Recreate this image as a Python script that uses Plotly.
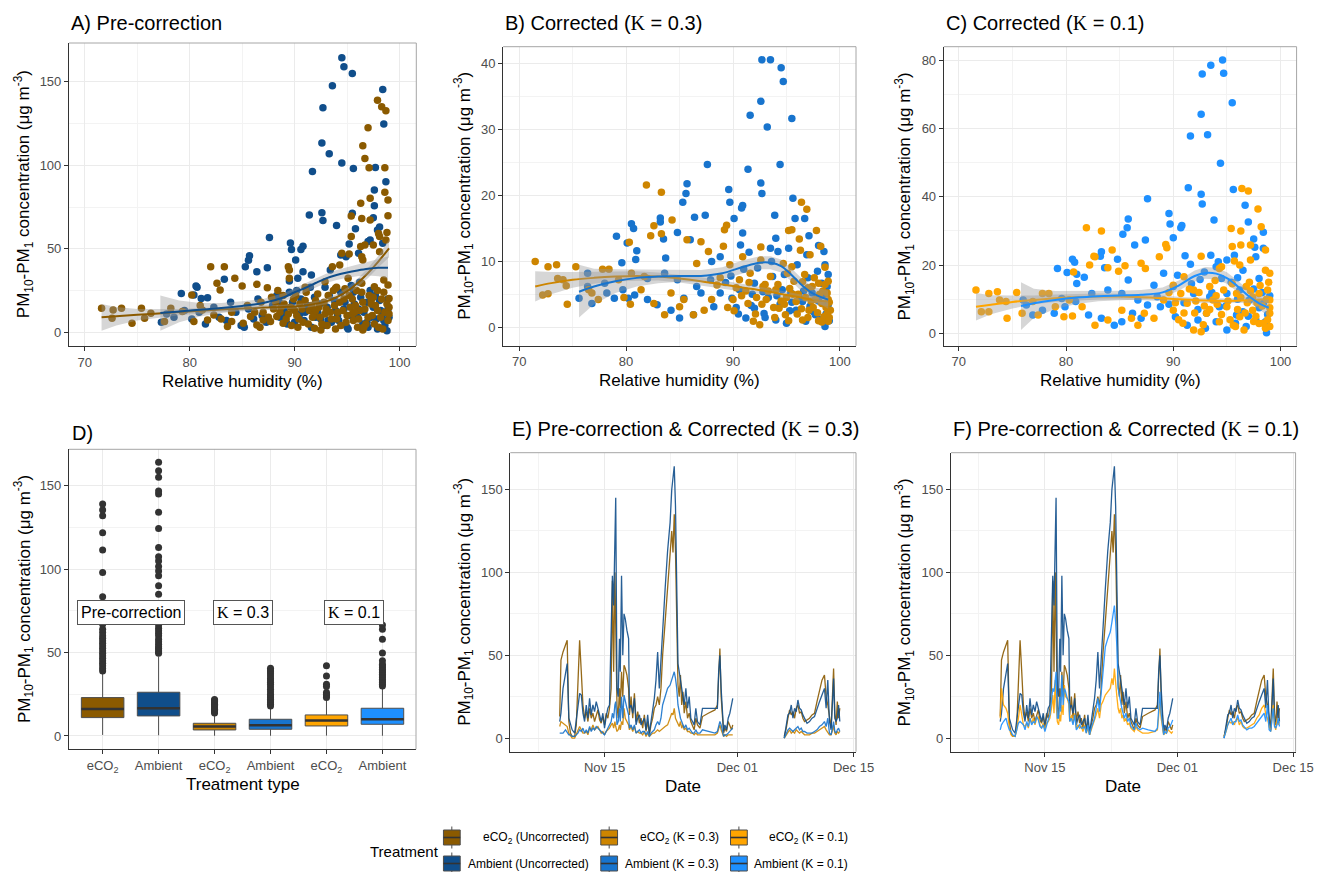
import pandas as pd
import plotly.graph_objects as go

W, H = 1335, 872
FONT = "Liberation Sans, Arial, sans-serif"

# colours per treatment
C_ECO2_U = "#8B5A00"   # orange4
C_AMB_U = "#104E8B"    # dodgerblue4
C_ECO2_3 = "#CD8500"   # orange3
C_AMB_3 = "#1874CD"    # dodgerblue3
C_ECO2_1 = "#FFA500"   # orange
C_AMB_1 = "#1E90FF"    # dodgerblue
RIBBON = "rgba(153,153,153,0.4)"

# ---------------- Panel A: pre-correction, (RH %, PM) ----------------
a_amb = [(94.5, 164.4), (94.7, 159), (95.5, 155), (93.6, 147.6), (98.4, 145.4), (92.7, 134.4), (98.5, 124.7),
         (92.6, 113.3), (93.3, 106.9), (94.5, 101.3), (91.7, 96.2), (95.6, 98.1), (97.7, 98.7), (98.7, 90.2),
         (97.6, 85.2), (97.6, 75.8), (91.4, 70.2), (92.6, 71.6), (92.7, 67.0), (95.5, 71.2), (94.0, 64.0),
         (95.8, 62.0), (97.5, 68.6), (98.1, 63.0), (87.6, 56.7), (89.6, 53.5), (89.7, 49.5), (90.8, 51.5),
         (90.6, 49.5), (85.7, 45.9), (85.6, 43.1), (85.3, 39.3), (87.4, 38.7), (90.1, 43.3), (95.2, 52.9),
         (94.4, 46.3), (94.9, 45.3), (96.1, 47.3), (97.0, 54.3), (97.2, 55.3), (86.4, 36.3), (83.3, 31.7),
         (93.4, 37.3), (91.6, 34.3), (90.8, 36.3), (98.4, 53.3), (97.9, 61.2), (79.2, 23.3), (80.6, 27.7),
         (80.7, 26.9), (81.7, 20.7), (81.1, 20.3), (80.4, 22.3), (89.5, 30.7), (90.3, 32.3),
         (77.3, 6), (77.8, 11), (78.5, 9), (79.5, 13), (80.2, 8), (80.9, 12), (81.5, 5), (82.3, 15), (82.8, 9),
         (83.5, 7), (83.9, 18), (84.4, 12), (84.9, 4), (85.2, 3), (85.6, 14), (86.1, 8), (86.5, 20), (86.9, 10),
         (87.3, 6), (87.9, 16), (88.3, 22), (88.6, 9), (89.0, 13), (89.3, 5), (89.8, 18), (90.2, 25), (90.5, 11),
         (90.9, 7), (91.2, 16), (91.6, 3), (91.9, 21), (92.2, 12), (92.5, 8), (92.9, 27), (93.1, 15), (93.5, 6),
         (93.8, 19), (94.1, 10), (94.4, 24), (94.7, 14), (95.0, 3), (95.1, 2), (95.4, 28), (95.7, 17), (96.0, 9),
         (96.3, 21), (96.6, 12), (96.9, 6), (97.2, 25), (97.5, 15), (97.8, 8), (98.1, 19), (98.4, 11), (98.6, 4),
         (98.8, 1), (98.9, 14), (99.0, 9), (97.0, 3), (96.2, 30), (93.2, 7),
         (88.5, 19), (89.1, 9), (89.5, 24), (90.0, 6), (90.6, 20), (91.0, 12), (91.5, 27), (92.0, 9), (92.4, 17),
         (92.8, 4), (93.3, 22), (93.9, 13), (94.2, 7), (94.8, 18), (95.2, 10), (95.6, 24), (96.1, 14), (96.5, 5),
         (96.9, 18), (97.3, 9), (97.7, 22), (98.2, 13), (98.5, 7), (98.9, 20), (97.9, 2)]

a_eco2 = [(97.9, 139), (98.3, 135), (98.7, 132.7), (97.0, 122.5), (96.5, 111.7), (96.7, 104.1), (98.6, 98.5),
          (97.1, 98.5), (98.6, 83.8), (98.9, 79.2), (96.3, 77.2), (97.2, 80.2), (98.9, 69.8), (96.4, 68.2),
          (97.2, 67.2), (95.4, 69.6), (98.8, 59.8), (98.0, 59.2), (95.4, 57.3), (96.3, 51.3), (96.7, 52.3),
          (97.5, 52.3), (98.1, 57.3), (95.2, 46.9), (94.5, 47.3), (96.4, 45.3), (98.7, 55.3), (98.1, 48.3),
          (89.4, 39.3), (89.5, 37.3), (93.6, 39.3), (94.3, 40.3), (96.5, 43.3), (82.0, 39.3), (83.3, 39.3),
          (84.3, 32.3), (89.5, 32.3), (92.9, 30.3), (95.1, 32.3), (82.6, 29.3), (82.9, 25.3), (85.0, 27.7),
          (86.4, 28.7), (87.4, 26.7), (93.9, 26.3), (98.9, 28.3), (99.0, 20.3), (98.5, 31.3), (97.6, 27.3),
          (96.4, 29.3),
          (71.6, 14.4), (72.7, 13.4), (72.6, 8.4), (73.5, 14.4), (74.5, 5.4), (75.4, 14.4), (76.3, 11.4),
          (75.7, 8.4), (77.6, 6.4), (78.2, 14.4), (79.3, 12.4), (80.2, 22.3), (80.4, 6.4), (81.2, 13.4),
          (81.7, 7.4), (82.3, 10.4), (83.6, 3.4), (84.0, 6.4), (85.1, 5.4), (85.8, 9.4), (86.4, 4.4), (87.0, 7.4),
          (87.7, 6.4), (88.3, 9.4), (88.9, 5.4), (91.9, 2.4), (92.5, 1.4), (96.5, 1.4),
          (88.2, 18), (88.6, 12), (88.9, 22), (89.2, 8), (89.6, 15), (89.9, 20), (90.2, 10), (90.5, 17), (90.8, 6),
          (91.1, 24), (91.4, 13), (91.7, 9), (92.0, 19), (92.3, 15), (92.6, 5), (92.9, 11), (93.2, 22), (93.5, 8),
          (93.8, 16), (94.1, 12), (94.4, 4), (94.7, 20), (95.0, 10), (95.3, 15), (95.6, 7), (95.9, 25), (96.2, 13),
          (96.5, 18), (96.8, 5), (97.1, 22), (97.4, 10), (97.7, 16), (98.0, 3), (98.3, 20), (98.6, 12), (98.9, 7),
          (99.0, 15), (97.9, 25), (96.0, 3), (94.0, 27), (91.0, 27), (90.0, 13), (87.0, 12), (85.5, 16), (84.0, 12),
          (83.0, 8), (81.0, 16), (93.0, 14), (95.5, 20), (97.3, 17),
          (86.2, 12), (86.8, 18), (87.5, 9), (88.0, 14), (88.4, 25), (89.0, 17), (89.4, 11), (89.7, 4), (90.1, 22),
          (90.4, 8), (90.7, 14), (91.0, 19), (91.3, 5), (91.6, 16), (91.9, 11), (92.2, 23), (92.4, 9), (92.8, 18),
          (93.1, 4), (93.4, 12), (93.7, 25), (94.0, 8), (94.3, 18), (94.6, 13), (94.9, 6), (95.2, 22), (95.5, 11),
          (95.8, 16), (96.1, 8), (96.4, 24), (96.7, 14), (97.0, 9), (97.3, 19), (97.6, 5), (97.9, 13), (98.2, 9),
          (98.5, 24), (98.8, 17), (99.0, 11), (98.4, 2), (97.5, 21), (96.6, 3), (95.7, 12), (94.8, 26), (93.9, 2),
          (92.0, 13), (90.3, 3), (88.7, 15), (87.8, 21), (86.7, 3)]

# loess fits: rh, fit, lower, upper
a_eco2_fit_rh = [71.6, 73, 75, 77, 79, 81, 83, 85, 87, 89, 91, 93, 94, 95, 96, 97, 98, 99]
a_eco2_fit = [9.0, 9.6, 10.5, 11.3, 12.1, 12.9, 13.6, 14.2, 14.8, 15.2, 16.0, 18.5, 21.0, 24.5, 29.5, 35.5, 42.5, 50.3]
a_eco2_lo = [1.0, 4.0, 7.0, 8.8, 10.2, 11.2, 12.0, 12.8, 13.4, 13.9, 14.6, 16.8, 19.0, 22.2, 27.0, 32.5, 39.0, 45.0]
a_eco2_hi = [17.0, 15.2, 14.0, 13.8, 14.0, 14.6, 15.2, 15.6, 16.2, 16.5, 17.4, 20.2, 23.0, 26.8, 32.0, 38.5, 46.0, 55.6]
a_amb_fit_rh = [77.2, 79, 81, 83, 85, 87, 89, 90, 91, 92, 93, 94, 95, 96, 97, 98, 98.9]
a_amb_fit = [11.5, 12.5, 13.5, 14.5, 15.8, 17.5, 21.0, 24.0, 26.5, 29.5, 32.3, 34.3, 35.8, 37.0, 38.0, 38.6, 38.7]
a_amb_lo = [1.0, 6.0, 9.5, 11.5, 13.0, 15.1, 18.5, 21.5, 24.0, 26.8, 29.5, 31.3, 32.6, 33.6, 34.0, 33.5, 32.0]
a_amb_hi = [22.0, 19.0, 17.5, 17.5, 18.6, 19.9, 23.5, 26.5, 29.0, 32.2, 35.1, 37.3, 39.0, 40.4, 42.0, 43.7, 45.4]

# ---------------- Panel B: corrected K = 0.3 ----------------
b_amb = [(92.7, 40.6), (93.5, 40.6), (94.5, 39.4), (94.7, 37.3), (92.6, 34.3), (93.2, 30.4), (91.6, 32.2),
         (95.5, 31.7), (91.4, 24.0), (87.6, 24.7), (94.4, 24.7), (92.6, 21.9), (92.7, 20.3), (95.6, 19.6),
         (85.7, 21.8), (85.6, 20.3), (85.3, 19.0), (89.6, 20.9), (89.7, 19.0), (90.8, 18.1), (90.9, 18.5),
         (90.1, 16.5), (93.9, 17.0), (95.8, 16.5), (86.4, 16.7), (87.4, 17.0), (83.2, 16.6), (83.2, 16.0),
         (80.5, 15.7), (80.7, 15.0), (79.1, 13.8), (80.1, 12.8), (81.0, 11.6), (80.9, 10.3), (79.6, 9.8),
         (83.5, 13.4), (84.8, 14.4), (96.7, 16.5), (97.1, 13.9), (98.0, 12.4), (98.5, 11.5), (98.6, 9.5),
         (95.2, 12.0), (94.2, 11.5), (93.5, 12.0), (90.9, 14.3), (90.7, 12.5), (91.5, 11.4), (88.8, 10.7),
         (86.0, 13.3), (83.7, 10.5),
         (76.4, 8.2), (76.8, 3.6), (75.6, 4.4), (76.4, 6.2), (78.2, 5.2), (78.9, 4.4), (80.2, 4.4), (80.8, 4.9),
         (82.0, 4.2), (82.9, 3.4), (84.2, 2.6), (85.0, 1.4), (86.3, 1.9), (85.4, 4.4), (87.0, 5.2), (88.2, 3.1),
         (88.8, 5.2), (89.9, 4.4), (90.6, 5.7), (91.2, 1.4), (92.0, 2.9), (92.9, 2.1), (94.0, 1.1), (95.0, 0.6),
         (95.9, 2.6), (96.8, 0.9), (97.7, 1.9), (98.6, 0.1), (95.4, 5.2), (92.8, 5.4), (96.5, 3.9), (97.4, 5.2),
         (98.3, 6.7), (98.8, 6.2), (98.9, 3.4), (94.6, 5.7), (93.7, 7.7), (92.0, 6.7), (87.9, 7.2), (86.6, 6.2),
         (84.8, 7.2), (83.6, 8.2), (82.0, 7.4), (79.7, 5.7), (78.0, 6.7),
         (96.2, 4.5), (97.2, 3.2), (98.0, 4.0), (98.7, 2.0), (99.0, 1.0), (95.3, 2.5), (94.4, 3.5), (93.3, 4.5),
         (91.8, 5.0), (90.3, 3.0), (89.3, 6.8), (88.0, 10.0),
         (89.8, 7.8), (90.5, 2.0), (91.0, 8.8), (91.7, 3.3), (92.3, 9.0), (93.0, 1.5), (93.6, 10.0), (94.1, 4.8),
         (94.8, 8.0), (95.5, 3.8), (96.0, 9.5), (96.6, 5.5), (97.0, 7.5), (97.5, 2.4), (97.9, 8.5), (98.2, 1.2),
         (98.5, 4.8), (98.9, 8.0), (96.9, 11.0), (94.0, 13.5)]

b_eco2 = [(81.9, 21.6), (83.3, 20.5), (84.3, 16.3), (82.6, 15.4), (82.3, 13.9), (83.3, 14.2), (80.3, 12.9),
          (71.5, 10.0), (72.7, 9.2), (73.5, 9.5), (72.2, 4.9), (72.7, 5.1), (74.5, 3.5), (75.3, 9.2), (73.6, 7.4),
          (74.1, 7.2), (74.4, 6.3), (76.5, 5.7), (76.8, 5.2), (77.4, 4.2), (77.8, 8.8), (78.4, 8.8), (79.8, 4.5),
          (80.4, 3.5), (80.5, 8.2), (81.4, 5.7), (82.6, 3.6), (83.6, 1.9), (84.2, 5.2), (85.0, 3.1), (85.7, 13.3),
          (87.0, 13.0), (87.7, 11.5), (86.6, 9.7), (89.2, 14.8), (89.4, 15.5), (89.1, 12.3), (90.9, 10.7),
          (92.6, 12.2), (92.6, 10.2), (95.2, 14.7), (95.5, 14.8), (96.4, 19.0), (96.9, 17.9), (96.2, 13.4),
          (96.3, 11.7), (97.8, 14.7), (98.2, 12.3), (97.2, 11.0), (98.6, 9.1), (94.7, 9.7), (95.1, 8.2),
          (95.5, 9.2), (93.5, 7.7), (94.0, 5.7), (91.6, 8.2), (90.6, 7.2), (90.0, 4.2), (91.4, 3.6), (91.9, 0.9),
          (92.5, 0.4), (93.1, 4.2), (94.3, 2.9), (94.9, 1.9), (95.9, 3.9), (96.5, 1.1), (97.1, 2.6), (97.7, 4.2),
          (98.5, 1.6), (98.9, 0.9), (99.1, 2.6), (98.8, 5.2), (98.3, 3.6), (97.4, 6.2), (96.5, 6.9), (95.3, 5.9),
          (92.8, 6.2), (88.5, 6.4), (88.0, 4.2), (87.3, 2.6), (86.3, 1.9), (85.4, 4.2), (81.7, 7.7), (79.3, 7.2),
          (89.7, 9.5), (98.0, 6.7), (98.9, 4.2),
          (96.0, 2.0), (96.8, 4.5), (97.5, 3.0), (98.0, 1.0), (98.4, 5.5), (98.7, 3.0), (99.0, 1.5), (97.0, 6.0),
          (95.6, 5.0), (94.5, 4.0), (93.8, 3.0), (93.0, 6.5), (92.2, 4.5), (91.2, 5.5), (90.3, 6.0), (89.5, 3.0),
          (88.8, 7.5),
          (90.1, 2.5), (90.8, 4.8), (91.5, 6.8), (92.1, 2.0), (92.7, 3.5), (93.3, 5.5), (93.9, 1.5), (94.2, 6.5),
          (94.8, 3.5), (95.2, 1.0), (95.7, 7.0), (96.1, 5.0), (96.4, 2.8), (96.7, 8.0), (97.0, 1.5), (97.3, 4.0),
          (97.6, 7.5), (97.9, 2.2), (98.1, 5.0), (98.3, 0.8), (98.6, 6.5), (98.8, 2.0), (99.0, 3.8), (98.9, 7.0),
          (95.0, 4.5)]

b_eco2_fit_rh = [71.5, 73, 75, 77, 79, 81, 83, 85, 87, 89, 91, 93, 95, 97, 98.9]
b_eco2_fit = [6.2, 6.7, 7.2, 7.5, 7.7, 7.8, 7.7, 7.4, 7.0, 6.5, 6.0, 5.5, 4.9, 4.3, 3.9]
b_eco2_lo = [3.9, 5.0, 6.0, 6.6, 7.0, 7.1, 7.1, 6.8, 6.4, 5.9, 5.4, 5.0, 4.4, 3.8, 3.2]
b_eco2_hi = [8.5, 8.4, 8.4, 8.4, 8.4, 8.5, 8.3, 8.0, 7.6, 7.1, 6.6, 6.0, 5.4, 4.8, 4.6]
b_amb_fit_rh = [75.6, 77, 79, 81, 83, 85, 87, 89, 91, 92.5, 93.5, 94.5, 95.5, 96.5, 97.5, 98.9]
b_amb_fit = [5.4, 6.2, 7.0, 7.5, 7.7, 7.8, 7.8, 8.2, 9.2, 9.8, 9.8, 9.3, 7.9, 6.3, 5.1, 4.2]
b_amb_lo = [1.5, 3.5, 5.2, 6.2, 6.7, 6.9, 6.9, 7.3, 8.2, 8.8, 8.8, 8.3, 6.9, 5.3, 4.1, 2.8]
b_amb_hi = [9.5, 8.9, 8.8, 8.8, 8.7, 8.7, 8.7, 9.1, 10.2, 10.8, 10.8, 10.3, 8.9, 7.3, 6.1, 5.6]

# ---------------- Panel C: corrected K = 0.1 ----------------
c_amb = [(94.6, 80.0), (93.5, 78.5), (92.7, 75.9), (94.7, 76.1), (95.5, 67.5), (92.6, 64.1), (93.2, 58.1),
         (91.6, 57.8), (94.4, 49.8), (91.4, 42.6), (92.6, 40.7), (92.7, 37.9), (95.6, 42.1), (96.7, 37.5),
         (87.6, 39.4), (93.8, 33.2), (89.6, 35.1), (89.7, 32.0), (90.8, 31.6), (90.7, 30.9), (90.0, 28.0),
         (97.0, 32.6), (97.5, 27.6), (98.4, 29.6), (97.6, 25.2), (98.4, 24.9), (85.8, 33.5), (85.7, 30.9),
         (85.3, 29.0), (87.4, 27.3), (86.4, 25.9), (83.3, 23.9), (83.2, 22.6), (80.6, 21.7), (80.8, 20.8),
         (79.2, 19.0), (80.1, 17.8), (81.0, 17.3), (81.0, 14.6), (81.7, 16.4), (84.8, 21.7), (83.6, 19.2),
         (91.1, 22.7), (91.6, 20.2), (93.5, 22.9), (95.0, 21.5), (95.7, 22.9), (96.0, 16.3), (94.5, 16.1),
         (98.0, 16.1), (97.7, 22.4), (89.1, 17.6), (94.0, 19.5), (92.5, 15.8), (88.2, 14.1), (85.8, 15.6),
         (76.0, 9.8), (76.9, 5.4), (76.3, 8.3), (77.8, 6.8), (78.9, 5.9), (79.9, 7.8), (80.9, 9.3), (82.1, 5.4),
         (83.3, 4.4), (84.5, 2.4), (85.2, 3.4), (86.2, 5.9), (87.0, 4.4), (87.6, 8.3), (88.8, 7.8), (90.2, 4.9),
         (91.3, 2.4), (92.3, 3.9), (93.1, 5.9), (94.0, 3.4), (95.0, 1.0), (95.9, 5.4), (96.8, 2.0), (97.7, 3.9),
         (98.7, 0.2), (98.4, 8.8), (97.1, 9.8), (96.2, 12.7), (95.0, 11.7), (93.4, 10.7), (91.9, 11.7),
         (90.0, 13.7), (88.5, 10.7), (86.7, 9.8), (85.2, 11.7), (83.9, 12.7), (82.4, 11.7), (79.6, 10.2),
         (98.6, 3.4), (94.3, 7.8), (96.5, 6.3),
         (89.6, 8.5), (90.4, 17.0), (91.0, 9.0), (91.7, 14.5), (92.3, 7.0), (92.9, 18.0), (93.6, 12.0),
         (94.2, 21.0), (94.9, 8.0), (95.4, 15.0), (96.0, 10.0), (96.5, 18.5), (97.0, 5.0), (97.5, 13.0),
         (98.0, 7.5), (98.3, 12.0), (98.8, 5.5), (99.0, 11.0), (95.8, 3.0), (93.0, 1.5)]

c_eco2 = [(81.9, 30.9), (83.3, 30.0), (96.4, 42.4), (97.0, 41.7), (97.9, 36.4), (98.2, 31.2), (95.4, 30.7),
          (96.3, 30.0), (96.3, 25.9), (97.2, 25.9), (98.6, 24.4), (95.5, 25.4), (95.7, 21.2), (96.2, 20.0),
          (97.2, 21.5), (98.6, 18.5), (94.5, 19.5), (92.6, 22.6), (94.3, 19.0), (89.4, 25.1), (89.3, 26.0),
          (88.7, 22.4), (84.3, 24.4), (82.7, 22.4), (82.2, 20.0), (82.6, 22.6), (83.9, 19.2), (84.9, 18.2),
          (85.5, 19.8), (87.0, 20.5), (87.4, 19.0), (80.7, 18.0), (80.3, 9.8), (71.6, 12.7), (72.8, 11.7),
          (73.6, 12.2), (72.1, 6.3), (72.8, 6.3), (74.5, 4.4), (75.4, 12.0), (75.9, 5.9), (73.8, 9.8), (74.4, 9.3),
          (76.9, 9.3), (77.4, 5.4), (77.8, 11.7), (78.4, 11.7), (79.0, 7.8), (79.8, 4.9), (80.6, 5.1), (81.5, 7.8),
          (82.7, 2.4), (83.9, 3.9), (85.2, 6.8), (86.1, 4.4), (86.7, 2.4), (87.3, 5.9), (88.2, 4.4), (89.1, 9.8),
          (90.0, 6.8), (90.7, 11.7), (91.3, 8.8), (91.9, 1.0), (92.6, 0.5), (93.1, 5.9), (93.7, 9.8), (94.3, 3.4),
          (95.0, 7.8), (95.6, 2.4), (96.2, 4.9), (96.6, 1.0), (97.4, 6.8), (98.0, 2.9), (98.6, 1.5), (99.0, 5.9),
          (99.0, 9.8), (98.8, 12.7), (98.0, 11.7), (97.4, 10.7), (96.8, 13.7), (95.9, 11.7), (94.7, 12.7),
          (93.4, 13.7), (91.9, 12.7), (91.0, 16.6), (90.0, 14.1), (99.0, 17.6),
          (96.0, 7.0), (96.9, 9.0), (97.7, 5.0), (98.3, 8.0), (98.8, 4.0), (99.0, 2.0), (95.3, 4.0), (94.0, 11.0),
          (92.9, 8.0), (92.0, 6.0), (90.5, 4.0), (89.6, 12.0),
          (90.2, 9.0), (90.9, 3.0), (91.5, 13.0), (92.1, 9.5), (92.8, 2.5), (93.4, 7.0), (93.9, 15.5), (94.5, 5.5),
          (95.1, 9.5), (95.5, 14.5), (95.8, 2.0), (96.3, 10.5), (96.7, 6.0), (97.1, 15.0), (97.5, 3.5), (97.8, 9.0),
          (98.1, 14.0), (98.4, 3.0), (98.7, 10.0), (99.0, 7.5), (98.9, 15.0), (97.2, 12.5), (94.1, 8.5),
          (92.4, 12.0), (91.0, 6.0)]

c_eco2_fit_rh = [71.6, 73, 75, 77, 79, 81, 83, 85, 87, 89, 91, 93, 95, 97, 98.9]
c_eco2_fit = [7.8, 8.4, 9.2, 9.8, 10.3, 10.6, 10.8, 10.8, 10.6, 10.3, 9.9, 9.6, 9.5, 9.7, 10.1]
c_eco2_lo = [3.8, 5.6, 7.3, 8.5, 9.2, 9.6, 9.9, 10.0, 9.8, 9.5, 9.2, 8.9, 8.8, 8.9, 9.0]
c_eco2_hi = [11.8, 11.2, 11.1, 11.1, 11.4, 11.6, 11.7, 11.6, 11.4, 11.1, 10.6, 10.3, 10.2, 10.5, 11.2]
c_amb_fit_rh = [75.8, 77, 79, 81, 83, 85, 87, 89, 90.5, 92, 93, 94, 95, 96, 97, 98, 98.9]
c_amb_fit = [8.0, 8.8, 9.8, 10.5, 10.9, 11.1, 11.3, 12.0, 14.0, 16.8, 17.7, 17.5, 16.2, 13.8, 11.0, 8.8, 7.5]
c_amb_lo = [1.0, 4.5, 7.2, 8.6, 9.4, 9.7, 9.9, 10.6, 12.5, 15.2, 16.0, 15.8, 14.5, 12.1, 9.3, 7.0, 5.0]
c_amb_hi = [15.0, 13.1, 12.4, 12.4, 12.4, 12.5, 12.7, 13.4, 15.5, 18.4, 19.4, 19.2, 17.9, 15.5, 12.7, 10.6, 10.0]

# ---------------- Panel D: box plot summaries ----------------
box_names = ["eCO<sub>2</sub>", "Ambient", "eCO<sub>2</sub>", "Ambient", "eCO<sub>2</sub>", "Ambient"]
box_colors = [C_ECO2_U, C_AMB_U, C_ECO2_3, C_AMB_3, C_ECO2_1, C_AMB_1]
box_q1 = [11.0, 12.0, 3.6, 4.0, 6.0, 7.0]
box_med = [16.2, 16.6, 5.7, 6.4, 9.2, 10.0]
box_q3 = [23.0, 26.2, 7.6, 10.0, 12.6, 16.6]
box_lo = [0.6, 0.4, 0.1, 0.1, 0.2, 0.1]
box_hi = [38.5, 47.5, 13.4, 17.2, 22.0, 29.6]
box_out = [
    [39, 40.5, 42, 43.5, 45, 46.5, 48, 49.5, 51, 52.5, 54, 55.5, 57, 58.5, 60, 62, 64, 67, 83.5, 97.9, 111.4,
     121.8, 132, 135.4, 139],
    [49.5, 50.5, 51.5, 52.5, 53.5, 55, 56.5, 58, 60, 61.5, 63, 64.5, 66.5, 85, 90, 96, 98.9, 101.5, 104.8, 107.4,
     113, 124.4, 134, 145, 146.8, 155, 159, 164],
    [13.8, 14.5, 15.2, 16, 16.8, 17.5, 18.3, 19, 19.8, 20.6, 21.3, 21.8],
    [18, 19, 20, 21, 22, 23, 24, 25, 26.5, 28, 29.5, 31, 32.2, 33.5, 34.5, 36, 37.3, 38.5, 39.5, 40.6],
    [23.0, 24.0, 25.0, 26.0, 29.6, 31.0, 36.0, 42.0],
    [30, 31, 32, 33, 34, 35, 36, 37, 38, 39, 40, 41, 42, 43, 45, 49.7, 57.9, 64, 66.5],
]

# ---------------- Panels E, F: time series (day counted from 31 Oct) ----------------
ts_day = [9.6, 9.75, 10.0, 10.3, 10.5, 10.7, 10.9, 11.1, 11.4, 11.6,
          11.8, 12.0, 12.2, 12.4, 12.6, 12.8, 13.0, 13.2, 13.4, 13.6,
          13.8, 14.0, 14.2, 14.4, 14.6, 14.8, 15.0, 15.2, 15.4, 15.6,
          15.8, 15.95, 16.1, 16.25, 16.35, 16.5, 16.65, 16.8, 16.9, 17.05,
          17.2, 17.35, 17.5, 17.7, 17.9, 18.0, 18.2, 18.4, 18.6, 18.8,
          19.0, 19.2, 19.4, 19.6, 19.8, 20.0, 20.2, 20.4, 20.6, 20.8,
          21.0, 21.2, 21.4, 21.6, 21.8, 22.0, 22.3, 22.6, 22.9, 23.1,
          23.25, 23.4, 23.55, 23.7, 23.85, 24.0, 24.15, 24.3, 24.45, 24.6,
          24.8, 25.0, 25.2, 25.4, 25.6, 25.8, 26.0, 26.2, 26.5, 26.8,
          27.5, 28.3, 28.6, 28.75, 28.9, 29.05, 29.2, 29.35, 29.5, 29.7,
          29.9, 30.1, 30.3, 30.45, 33.5, 36.65, 36.9, 37.1, 37.3, 37.5,
          37.7, 37.9, 38.1, 38.3, 38.5, 38.7, 38.9, 39.1, 39.4, 39.7,
          40.0, 40.3, 40.6, 40.9, 41.2, 41.5, 41.7, 41.9, 42.1, 42.3,
          42.5, 42.6, 42.75, 42.9, 43.05, 43.2, 43.35]
ts_eco2_raw = [13, 47, 52, 57, 59, 10, 3, 1, 1, 8,
               30, 59, 40, 20, 12, 16, 10, 18, 12, 15,
               10, 14, 17, 11, 9, 13, 8, 15, 12, 18,
               30, 95, 40, 100, 60, 20, 12, 30, 18, 40,
               25, 44, 42, 38, 30, 14, 25, 12, 27, 10,
               16, 9, 12, 6, 14, 4, 10, 2, 8, 12,
               18, 20, 25, 20, 30, 50, 70, 90, 110, 125,
               112, 135, 113, 70, 32, 25, 38, 20, 28, 15,
               22, 12, 15, 10, 8, 5, 12, 8, 6, 13,
               15, 17, 20, 35, 54, 25, 10, 3, 6, 4,
               10, 8, 5, 8, None, 1, 6, 12, 17, 14,
               16, 12, 18, 20, 15, 16, 12, 10, 11, 12,
               14, 15, 22, 28, 35, 38, 25, 20, 12, 6,
               30, 42, 15, 8, 22, 12, 18]
ts_amb_raw = [10, 15, 30, 40, 45, 12, 8, 5, 3, 10,
              18, 27, 26, 15, 10, 20, 12, 24, 14, 20,
              16, 22, 18, 13, 10, 15, 6, 13, 18, 20,
              60, 98, 80, 140, 145, 30, 25, 60, 40, 98,
              50, 75, 72, 65, 60, 18, 20, 15, 24, 8,
              12, 14, 8, 10, 12, 5, 14, 3, 10, 16,
              24, 35, 52, 30, 48, 70, 90, 113, 130, 150,
              158, 164, 140, 100, 45, 40, 35, 30, 25, 20,
              30, 18, 25, 12, 10, 8, 18, 10, 8, 18,
              18, 18, 18, 40, 50, 30, 15, 4, 8, 5,
              12, 15, 20, 24, None, 0, 8, 14, 15, 20,
              12, 18, 16, 23, 18, 17, 14, 12, 9, 10,
              12, 13, 18, 22, 26, 30, 18, 35, 10, 5,
              25, 36, 12, 10, 12, 20, 10]
ts_eco2_k03 = [7, 10, 9, 8, 7, 3, 1, 0, 0, 2,
               4, 7, 5, 3, 3, 4, 2, 6, 5, 8,
               5, 6, 7, 5, 3, 4, 2, 4, 5, 6,
               8, 9, 6, 10, 7, 4, 5, 8, 5, 10,
               8, 18, 12, 10, 8, 5, 7, 4, 7, 3,
               4, 3, 3, 2, 4, 1, 3, 1, 2, 3,
               3, 4, 5, 4, 5, 6, 7, 8, 12, 15,
               14, 18, 12, 10, 8, 7, 10, 6, 8, 5,
               6, 4, 4, 3, 3, 2, 3, 2, 2, 2,
               2, 2, 3, 5, 8, 5, 3, 1, 2, 1,
               2, 2, 2, 2, None, 0, 2, 4, 5, 3,
               4, 3, 5, 4, 3, 4, 3, 2, 2, 2,
               3, 3, 4, 5, 6, 7, 5, 3, 2, 2,
               5, 8, 3, 2, 4, 3, 4]
ts_amb_k03 = [3, 3, 3, 5, 3, 2, 2, 1, 1, 2,
              3, 5, 4, 6, 3, 5, 3, 7, 4, 6,
              5, 7, 6, 5, 4, 3, 2, 4, 6, 8,
              10, 15, 12, 20, 22, 8, 10, 18, 10, 25,
              12, 26, 22, 18, 14, 6, 8, 5, 8, 3,
              4, 5, 3, 4, 4, 2, 4, 1, 3, 4,
              5, 8, 10, 8, 12, 20, 25, 30, 32, 35,
              38, 40, 36, 30, 20, 15, 12, 10, 8, 6,
              8, 5, 6, 4, 3, 3, 5, 3, 3, 5,
              4, 3, 4, 8, 10, 8, 5, 1, 2, 2,
              3, 4, 5, 6, None, 0, 3, 5, 6, 5,
              4, 5, 6, 7, 5, 6, 4, 4, 3, 3,
              3, 4, 5, 7, 8, 10, 7, 12, 3, 2,
              8, 10, 4, 3, 5, 6, 4]
ts_eco2_k01 = [12, 30, 20, 18, 15, 6, 2, 1, 1, 5,
               12, 20, 14, 8, 7, 9, 6, 12, 9, 12,
               8, 12, 13, 8, 6, 9, 5, 9, 10, 12,
               18, 26, 15, 35, 22, 10, 8, 14, 10, 20,
               14, 32, 25, 24, 20, 10, 14, 9, 15, 6,
               8, 6, 7, 4, 8, 3, 6, 2, 5, 8,
               10, 14, 18, 12, 20, 22, 26, 28, 30, 36,
               32, 42, 30, 25, 18, 15, 18, 12, 14, 10,
               12, 8, 9, 6, 5, 4, 7, 5, 4, 3,
               3, 4, 5, 15, 22, 12, 6, 2, 3, 3,
               5, 4, 3, 4, None, 1, 4, 8, 10, 9,
               10, 8, 11, 12, 8, 10, 7, 6, 6, 7,
               8, 9, 12, 14, 18, 20, 14, 12, 7, 4,
               15, 20, 8, 5, 12, 8, 10]
ts_amb_k01 = [5, 8, 10, 12, 8, 5, 4, 2, 1, 5,
              9, 10, 9, 8, 5, 10, 7, 12, 8, 10,
              9, 13, 11, 7, 6, 8, 4, 8, 11, 14,
              25, 30, 28, 35, 40, 12, 12, 25, 16, 38,
              20, 30, 28, 24, 22, 10, 12, 8, 14, 5,
              7, 8, 6, 6, 7, 3, 8, 2, 6, 9,
              12, 18, 24, 16, 26, 38, 55, 60, 64, 70,
              74, 80, 70, 55, 30, 25, 22, 18, 15, 12,
              15, 10, 12, 7, 6, 5, 9, 6, 5, 6,
              5, 4, 6, 18, 28, 15, 8, 2, 4, 3,
              6, 7, 9, 11, None, 0, 5, 8, 10, 12,
              8, 10, 10, 14, 10, 11, 8, 7, 5, 6,
              6, 7, 9, 11, 13, 15, 10, 20, 5, 4,
              14, 18, 7, 6, 8, 12, 7]


def day_ts(d):
    return pd.Timestamp("2020-10-31") + pd.Timedelta(days=d)


ts_x = [day_ts(d) for d in ts_day]

fig = go.Figure()


def add_points(pts, color, ax):
    fig.add_trace(go.Scatter(x=[p[0] for p in pts], y=[p[1] for p in pts], mode="markers",
                             marker=dict(color=color, size=7.5, line=dict(width=0)),
                             xaxis="x" + ax, yaxis="y" + ax, hoverinfo="skip"))


def add_smooth(rh, fit, lo, hi, color, ax):
    fig.add_trace(go.Scatter(x=rh + rh[::-1], y=hi + lo[::-1], fill="toself", fillcolor=RIBBON,
                             mode="lines", line=dict(width=0), xaxis="x" + ax, yaxis="y" + ax,
                             hoverinfo="skip"))
    fig.add_trace(go.Scatter(x=rh, y=fit, mode="lines", line=dict(color=color, width=2, shape="spline"),
                             xaxis="x" + ax, yaxis="y" + ax, hoverinfo="skip"))


# A
add_points(a_amb, C_AMB_U, "")
add_points(a_eco2, C_ECO2_U, "")
add_smooth(a_eco2_fit_rh, a_eco2_fit, a_eco2_lo, a_eco2_hi, C_ECO2_U, "")
add_smooth(a_amb_fit_rh, a_amb_fit, a_amb_lo, a_amb_hi, C_AMB_U, "")
# B
add_points(b_amb, C_AMB_3, "2")
add_points(b_eco2, C_ECO2_3, "2")
add_smooth(b_eco2_fit_rh, b_eco2_fit, b_eco2_lo, b_eco2_hi, C_ECO2_3, "2")
add_smooth(b_amb_fit_rh, b_amb_fit, b_amb_lo, b_amb_hi, C_AMB_3, "2")
# C
add_points(c_amb, C_AMB_1, "3")
add_points(c_eco2, C_ECO2_1, "3")
add_smooth(c_eco2_fit_rh, c_eco2_fit, c_eco2_lo, c_eco2_hi, C_ECO2_1, "3")
add_smooth(c_amb_fit_rh, c_amb_fit, c_amb_lo, c_amb_hi, C_AMB_1, "3")

# D: boxes
for i in range(6):
    fig.add_trace(go.Box(x=[i], q1=[box_q1[i]], median=[box_med[i]], q3=[box_q3[i]],
                         lowerfence=[box_lo[i]], upperfence=[box_hi[i]], width=0.76,
                         fillcolor=box_colors[i], line=dict(color="#4D4D4D", width=1),
                         whiskerwidth=0, boxpoints=False, xaxis="x4", yaxis="y4", hoverinfo="skip"))
    fig.add_trace(go.Scatter(x=[i - 0.38, i + 0.38], y=[box_med[i], box_med[i]], mode="lines",
                             line=dict(color="#333333", width=2.5), xaxis="x4", yaxis="y4", hoverinfo="skip"))
    fig.add_trace(go.Scatter(x=[i] * len(box_out[i]), y=box_out[i], mode="markers",
                             marker=dict(color="#333333", size=7), xaxis="x4", yaxis="y4", hoverinfo="skip"))

# E and F: time series
for ax, k_eco2, k_amb, ce, ca in [("5", ts_eco2_k03, ts_amb_k03, C_ECO2_3, C_AMB_3),
                                  ("6", ts_eco2_k01, ts_amb_k01, C_ECO2_1, C_AMB_1)]:
    for ys, col in [(ts_eco2_raw, C_ECO2_U), (ts_amb_raw, C_AMB_U), (k_eco2, ce), (k_amb, ca)]:
        fig.add_trace(go.Scatter(x=ts_x, y=ys, mode="lines", line=dict(color=col, width=1.3),
                                 opacity=0.9, connectgaps=False, xaxis="x" + ax, yaxis="y" + ax,
                                 hoverinfo="skip"))


def px(x):
    return x / W


def py(y):
    return 1 - y / H


def base_axis(**kw):
    ax = dict(showgrid=True, gridcolor="#EBEBEB", gridwidth=1, zeroline=False,
              showline=True, linecolor="#333333", linewidth=1.2,
              ticks="outside", ticklen=4, tickwidth=1, tickcolor="#333333",
              tickfont=dict(family=FONT, size=13, color="#4D4D4D"))
    ax.update(kw)
    return ax


def minor(vals):
    return dict(tickvals=vals, showgrid=True, gridcolor="#F3F3F3", gridwidth=1, ticks="")


# panel boxes in pixels: left, right, top, bottom
boxes = {"": (70, 422, 43, 346), "2": (510, 867.7, 46.7, 345.7), "3": (956.7, 1314.3, 46.7, 345.7),
         "4": (70, 421.7, 449.3, 749.3), "5": (517.3, 867.7, 452.7, 751.7), "6": (964, 1313.3, 452.7, 751.7)}

rh_x = dict(range=[68.5, 101.6], tickvals=[70, 80, 90, 100], minor=minor([75, 85, 95]))
date_x = dict(type="date", range=[day_ts(3.65), day_ts(45.3)],
              tickvals=[day_ts(15), day_ts(31), day_ts(45)], ticktext=["Nov 15", "Dec 01", "Dec 15"],
              minor=minor([day_ts(7), day_ts(23), day_ts(38)]))
xcfg = {"": rh_x, "2": dict(rh_x, range=[68.5, 101.5]), "3": dict(rh_x, range=[68.6, 101.5]),
        "4": dict(range=[-0.6, 5.6], tickvals=list(range(6)), ticktext=box_names),
        "5": date_x, "6": date_x}
y150 = dict(tickvals=[0, 50, 100, 150], minor=minor([25, 75, 125]))
ycfg = {"": dict(y150, range=[-8.2, 173.2]),
        "2": dict(range=[-2.8, 42.6], tickvals=[0, 10, 20, 30, 40], minor=minor([5, 15, 25, 35])),
        "3": dict(range=[-3.6, 83.9], tickvals=[0, 20, 40, 60, 80], minor=minor([10, 30, 50, 70])),
        "4": dict(y150, range=[-8.0, 171.8]), "5": dict(y150, range=[-8.2, 172.2]),
        "6": dict(y150, range=[-8.2, 172.2])}

layout_axes = {}
for k, (l, r, t, b) in boxes.items():
    layout_axes["xaxis" + k] = base_axis(domain=[px(l), px(r)], anchor="y" + k, **xcfg[k])
    layout_axes["yaxis" + k] = base_axis(domain=[py(b), py(t)], anchor="x" + k, **ycfg[k])
    # lighter top/right panel border
    for x0, x1, y0, y1 in [(0, 1, 1, 1), (1, 1, 0, 1)]:
        fig.add_shape(type="line", xref="x" + k + " domain", yref="y" + k + " domain",
                      x0=x0, x1=x1, y0=y0, y1=y1, line=dict(color="#A6A6A6", width=1))

ann = []
K = "<span style='font-family:Liberation Serif, Times New Roman, serif'>K</span>"
titles = [("A) Pre-correction", 70, 22.5), (f"B) Corrected ({K} = 0.3)", 510, 22.5),
          (f"C) Corrected ({K} = 0.1)", 956.7, 22.5), ("D)", 70.7, 432.5),
          (f"E) Pre-correction &amp; Corrected ({K} = 0.3)", 517.3, 429),
          (f"F) Pre-correction &amp; Corrected ({K} = 0.1)", 964, 429)]
for txt, x, y in titles:
    ann.append(dict(text=txt, x=px(x), y=py(y), xref="paper", yref="paper", xanchor="left",
                    yanchor="middle", showarrow=False, font=dict(family=FONT, size=20, color="black")))

ytitle = "PM<sub>10</sub>-PM<sub>1</sub> concentration (μg m<sup>-3</sup>)"
xtitles = {"": "Relative humidity (%)", "2": "Relative humidity (%)", "3": "Relative humidity (%)",
           "4": "Treatment type", "5": "Date", "6": "Date"}
ytitle_x = {"": 24, "2": 470, "3": 916.7, "4": 24, "5": 470, "6": 916.7}
for k, (l, r, t, b) in boxes.items():
    ann.append(dict(text=xtitles[k], x=px((l + r) / 2), y=py(b + 35), xref="paper", yref="paper",
                    xanchor="center", yanchor="middle", showarrow=False,
                    font=dict(family=FONT, size=17, color="black")))
    ann.append(dict(text=ytitle, x=px(ytitle_x[k]), y=py((t + b) / 2), xref="paper", yref="paper",
                    xanchor="center", yanchor="middle", textangle=-90, showarrow=False,
                    font=dict(family=FONT, size=17, color="black")))

# group labels inside panel D
for txt, xv in [("Pre-correction", 0.5), (f"{K} = 0.3", 2.5), (f"{K} = 0.1", 4.5)]:
    ann.append(dict(text=txt, x=xv, y=74, xref="x4", yref="y4", showarrow=False,
                    font=dict(family=FONT, size=16, color="black"), bgcolor="white",
                    bordercolor="#555555", borderwidth=1, borderpad=3))

# legend, drawn by hand as in the original layout
leg_labels = [["eCO<sub>2</sub> (Uncorrected)", "eCO<sub>2</sub> (K = 0.3)", "eCO<sub>2</sub> (K = 0.1)"],
              ["Ambient (Uncorrected)", "Ambient (K = 0.3)", "Ambient (K = 0.1)"]]
leg_colors = [[C_ECO2_U, C_ECO2_3, C_ECO2_1], [C_AMB_U, C_AMB_3, C_AMB_1]]
key_cx = [458, 617.5, 749]
label_right = [599.3, 730.7, 861.7]
row_cy = [837.5, 863.5]
for r in range(2):
    cy = row_cy[r]
    for c in range(3):
        cx = key_cx[c]
        fig.add_shape(type="rect", xref="paper", yref="paper", x0=px(cx - 8.5), x1=px(cx + 8.5),
                      y0=py(cy + 7.5), y1=py(cy - 7.5), fillcolor=leg_colors[r][c],
                      line=dict(color="#4D4D4D", width=1))
        fig.add_shape(type="line", xref="paper", yref="paper", x0=px(cx - 8.5), x1=px(cx + 8.5),
                      y0=py(cy), y1=py(cy), line=dict(color="#333333", width=1.6))
        for y0, y1 in [(cy - 11, cy - 7.5), (cy + 7.5, cy + 11)]:
            fig.add_shape(type="line", xref="paper", yref="paper", x0=px(cx), x1=px(cx),
                          y0=py(y0), y1=py(y1), line=dict(color="#4D4D4D", width=1))
        ann.append(dict(text=leg_labels[r][c], x=px(label_right[c]), y=py(cy + 0.5), xref="paper",
                        yref="paper", xanchor="right", yanchor="middle", showarrow=False,
                        font=dict(family=FONT, size=12, color="black")))
ann.append(dict(text="Treatment", x=px(373), y=py(851.5), xref="paper", yref="paper", xanchor="left",
                yanchor="middle", showarrow=False, font=dict(family=FONT, size=15, color="black")))

fig.update_layout(width=W, height=H, margin=dict(l=0, r=0, t=0, b=0), showlegend=False,
                  paper_bgcolor="white", plot_bgcolor="white", font=dict(family=FONT),
                  annotations=ann, **layout_axes)

# page body has a default margin; remove it so the figure sits at the window origin
fig.write_html("out.html", config={"displayModeBar": False},
               post_script="document.body.style.margin='0';document.body.style.overflow='hidden';")
